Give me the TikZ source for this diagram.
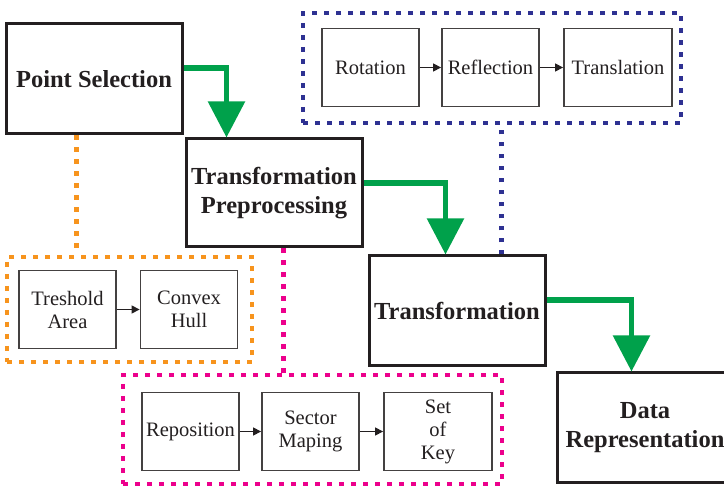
\documentclass[tikz,border=0pt]{standalone}
\usepackage{fontspec}
\setmainfont{Liberation Serif}
\usetikzlibrary{arrows.meta}
\definecolor{ink}{HTML}{231F20}
\definecolor{flowgreen}{HTML}{00A14B}
\definecolor{dotblue}{HTML}{2E3192}
\definecolor{dotorange}{HTML}{F7941D}
\definecolor{dotpink}{HTML}{EC008C}
\tikzset{
	bigbox/.style={draw=ink, line width=3pt, text=ink, align=center,
		minimum width=176pt, minimum height=110pt, inner sep=0pt,
		font=\fontsize{24.5}{29}\selectfont\bfseries},
	inbox/.style={draw=ink!85, line width=1.8pt, text=ink, align=center,
		minimum width=97pt, minimum height=78pt, inner sep=0pt,
		font=\fontsize{20.5}{23}\selectfont},
	grp/.style={line width=4.7pt, dash pattern=on 4.7pt off 7.3pt, inner sep=0pt},
	flow/.style={draw=flowgreen, line width=5.5pt, -{Triangle[width=36pt,length=36pt]}},
	link/.style={draw=ink, line width=1.3pt, -{Triangle[width=8pt,length=8pt]}}
}
\begin{document}
\begin{tikzpicture}[x = 1pt, y = -1pt]
	\useasboundingbox (0,0) rectangle (724,486);
	\clip (0,0) rectangle (724,486);
	
	% groups
	\node[grp, draw=dotblue, minimum width=378pt, minimum height=110pt] (blu) at (492,68) {};
	\node[grp, draw=dotorange, minimum width=245pt, minimum height=105pt] (org) at (129.5,309.5) {};
	\node[grp, draw=dotpink, minimum width=379pt, minimum height=109pt] (mag) at (312.5,429.5) {};
	
	% main steps
	\node[bigbox] (ps) at (94,79) {Point Selection};
	\node[bigbox, minimum height=108pt] (tp) at (274,193) {Transformation\\Preprocessing};
	\node[bigbox] (tr) at (457,311) {Transformation};
	\node[bigbox] (dr) at (645,428) {Data\\Representation};
	
	% inner steps
	\node[inbox] (rot) at (370.5,67.5) {Rotation};
	\node[inbox] (ref) at (490.5,67.5) {Reflection};
	\node[inbox, minimum width=108pt] (tra) at (618,67.5) {Translation};
	
	\node[inbox] (thr) at (67.5,309.5) {Treshold\\Area};
	\node[inbox] (cvx) at (189,309.5) {Convex\\Hull};
	
	\node[inbox] (rep) at (190.5,431.5) {Reposition};
	\node[inbox] (sec) at (310.5,431.5) {Sector\\Maping};
	\node[inbox, minimum width=108pt] (key) at (438,431.5) {Set\\of\\Key};
	
	\draw[link] (rot) -- (ref);
	\draw[link] (ref) -- (tra);
	\draw[link] (thr) -- (cvx);
	\draw[link] (rep) -- (sec);
	\draw[link] (sec) -- (key);
	
	% dotted links to groups
	\draw[grp, draw=dotorange] ([xshift=72pt]ps.south west) -- ([xshift=72pt]ps.south west |- org.north);
	\draw[grp, draw=dotpink] ([xshift=99pt]tp.south west) -- ([xshift=99pt]tp.south west |- mag.north);
	\draw[grp, draw=dotblue] ([xshift=134pt]tr.north west) -- ([xshift=134pt]tr.north west |- blu.south);
	
	% flow
	\draw[flow] ([yshift=11pt]ps.east) -| ([xshift=42pt]tp.north west);
	\draw[flow] ([yshift=10pt]tp.east) -| ([xshift=78pt]tr.north west);
	\draw[flow] ([yshift=11pt]tr.east) -| ([xshift=76pt]dr.north west);
\end{tikzpicture}
\end{document}
